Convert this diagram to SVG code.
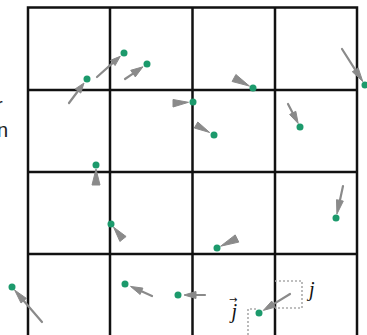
<svg xmlns="http://www.w3.org/2000/svg" width="367" height="335" viewBox="0 0 367 335">
<style>
.grid{stroke:#111;stroke-width:2.5;fill:none}
.shaft{stroke:#8a8a8a;stroke-width:2.2;fill:none;stroke-linecap:round}
.head{fill:#8a8a8a;stroke:#8a8a8a;stroke-width:1;stroke-linejoin:round}
.dot{fill:#1c9a6c}
.dash{stroke:#aaa;stroke-width:1.6;stroke-dasharray:2 2;fill:none}
.lbl{font-family:"Liberation Serif","DejaVu Serif",serif;font-style:italic;font-size:20px;fill:#111}
.vec{font-family:"DejaVu Sans",sans-serif;font-style:normal;font-size:10px}
.frag{font-family:"Liberation Sans",Arial,sans-serif;font-size:20px;fill:#222}
</style>
<rect width="367" height="335" fill="#fff"/>
<text class="frag" x="-4" y="112">r</text>
<text class="frag" x="-3" y="137">n</text>
<g id="grid" class="grid">
<rect x="28" y="7.5" width="329" height="340"/>
<line x1="110" y1="7.5" x2="110" y2="335"/>
<line x1="192.5" y1="7.5" x2="192.5" y2="335"/>
<line x1="275" y1="7.5" x2="275" y2="335"/>
<line x1="28" y1="90" x2="357" y2="90"/>
<line x1="28" y1="172" x2="357" y2="172"/>
<line x1="28" y1="254" x2="357" y2="254"/>
</g>
<g id="guides">
<polyline class="dash" points="275,281 302,281 302,308 275,308"/>
<polyline class="dash" points="256,309 248,309 248,335"/>
</g>
<g id="connectors">
<line class="shaft" x1="69" y1="103" x2="78" y2="91"/><polygon class="head" points="84,83 80.8,93.1 75.2,88.9"/>
<line class="shaft" x1="97" y1="77" x2="112.8" y2="62.9"/><polygon class="head" points="120.3,56.3 115.1,65.5 110.5,60.3"/>
<line class="shaft" x1="125" y1="79" x2="133" y2="73.6"/><polygon class="head" points="142.9,66.8 135.3,76.9 130.7,70.3"/>
<polygon class="head" points="249.5,86.1 232.1,81.5 235.9,74.5"/>
<polygon class="head" points="188.5,102.3 173,99.5 173,107"/>
<polygon class="head" points="209.7,132.5 194.3,128 197.8,122"/>
<line class="shaft" x1="288" y1="104" x2="292.7" y2="112.9"/><polygon class="head" points="298.2,123.5 289.6,114.5 295.8,111.3"/>
<line class="shaft" x1="342" y1="49" x2="355.3" y2="69.8"/><polygon class="head" points="362.8,81.6 352.3,71.7 358.2,67.9"/>
<polygon class="head" points="96,169 92,185 100,185"/>
<polygon class="head" points="113.5,227.1 119.9,241.5 126.1,236.5"/>
<polygon class="head" points="220.6,246.2 238.8,242.1 235.2,234.9"/>
<line class="shaft" x1="343" y1="186" x2="339.9" y2="200.4"/><polygon class="head" points="336.9,214.1 343.3,201.1 336.5,199.7"/>
<line class="shaft" x1="42" y1="322" x2="23.7" y2="300.7"/><polygon class="head" points="14.6,290 26.4,298.4 21,303"/>
<line class="shaft" x1="152" y1="296" x2="141.5" y2="291.3"/><polygon class="head" points="130.5,286.4 142.9,288.1 140.1,294.5"/>
<line class="shaft" x1="205" y1="295" x2="196" y2="295"/><polygon class="head" points="184,295 196,291.5 196,298.5"/>
<line class="shaft" x1="290" y1="294" x2="273.5" y2="304.1"/><polygon class="head" points="263.3,310.4 271.7,301.1 275.3,307.1"/>
</g>
<g id="dots">
<circle id="p1" class="dot" cx="87" cy="79" r="3.5"/>
<circle id="p2" class="dot" cx="124" cy="53" r="3.5"/>
<circle id="p3" class="dot" cx="147" cy="64" r="3.5"/>
<circle id="p4" class="dot" cx="253" cy="88" r="3.5"/>
<circle id="p5" class="dot" cx="193" cy="102" r="3.5"/>
<circle id="p6" class="dot" cx="214" cy="135" r="3.5"/>
<circle id="p7" class="dot" cx="300" cy="127" r="3.5"/>
<circle id="p8" class="dot" cx="365" cy="85" r="3.5"/>
<circle id="p9" class="dot" cx="96" cy="165" r="3.5"/>
<circle id="p10" class="dot" cx="111" cy="224" r="3.5"/>
<circle id="p11" class="dot" cx="217" cy="248" r="3.5"/>
<circle id="p12" class="dot" cx="336" cy="218" r="3.5"/>
<circle id="p13" class="dot" cx="12" cy="287" r="3.5"/>
<circle id="p14" class="dot" cx="125" cy="284" r="3.5"/>
<circle id="p15" class="dot" cx="178" cy="295" r="3.5"/>
<circle id="p16" class="dot" cx="259" cy="313" r="3.5"/>
</g>
<g id="labels">
<text class="lbl" x="309" y="296">j</text>
<text class="lbl" x="229" y="318">j<tspan class="vec" dx="-8" dy="-15">→</tspan></text>
</g>
</svg>
